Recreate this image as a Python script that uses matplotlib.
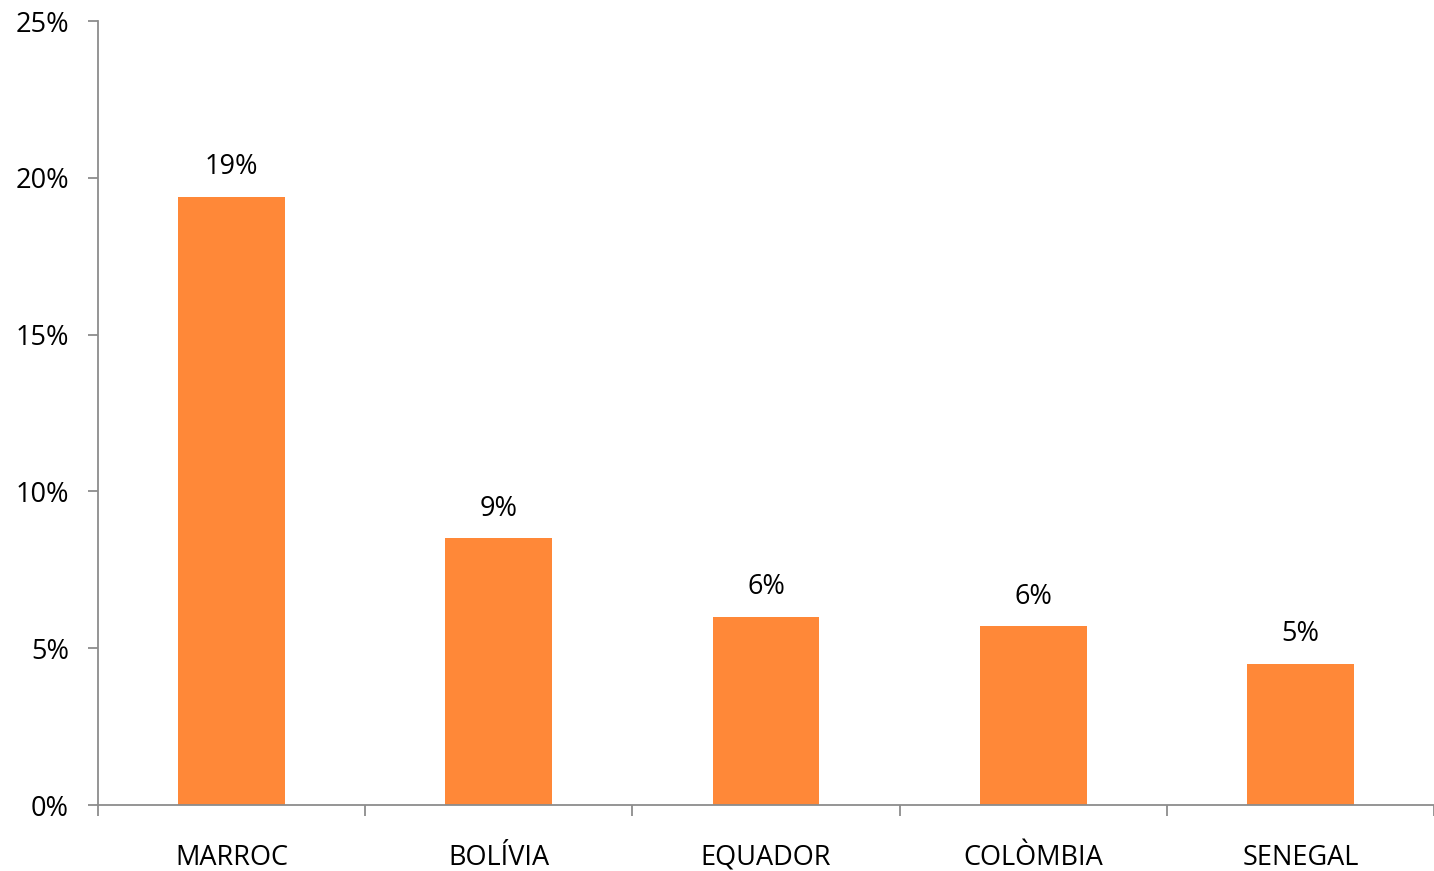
import numpy as np
import matplotlib.pyplot as plt
from matplotlib.ticker import FuncFormatter, FixedLocator

countries = ['MARROC', 'BOLÍVIA', 'EQUADOR', 'COLÒMBIA', 'SENEGAL']
shares = [19.4, 8.5, 6.0, 5.7, 4.5]
labels = ['19%', '9%', '6%', '6%', '5%']

plt.rcParams['font.family'] = ['Open Sans', 'DejaVu Sans']

fig = plt.figure(figsize=(14.34, 8.71), dpi=100)
ax = fig.add_axes([98 / 1434, 1 - 805 / 871, 1 - 98 / 1434, (805 - 21) / 871])

x = np.arange(len(countries))
bars = ax.bar(x, shares, width=0.4, color='#FF8838', zorder=2)

for b, lab in zip(bars, labels):
    ax.text(b.get_x() + b.get_width() / 2, b.get_height() + 0.5, lab,
            ha='center', va='bottom', fontsize=19.5)

ax.set_xlim(-0.5, len(countries) - 0.5)
ax.set_ylim(0, 25)
ax.set_yticks([0, 5, 10, 15, 20, 25])
ax.yaxis.set_major_formatter(FuncFormatter(lambda v, p: f'{v:.0f}%'))

ax.set_xticks(x)
ax.set_xticklabels(countries)
ax.xaxis.set_minor_locator(FixedLocator(np.arange(-0.5, len(countries), 1.0)))
ax.tick_params(axis='x', which='major', length=0, pad=28, labelsize=19.5)
ax.tick_params(axis='x', which='minor', length=8, width=1.3, color='#8c8c8c')
ax.tick_params(axis='y', length=7, width=1.3, color='#8c8c8c', labelsize=19.5, pad=14)

ax.spines['top'].set_visible(False)
ax.spines['right'].set_visible(False)
ax.spines['left'].set_color('#8c8c8c')
ax.spines['bottom'].set_color('#8c8c8c')
ax.spines['left'].set_linewidth(1.3)
ax.spines['bottom'].set_linewidth(1.3)

fig.savefig('out.png', dpi=100)
